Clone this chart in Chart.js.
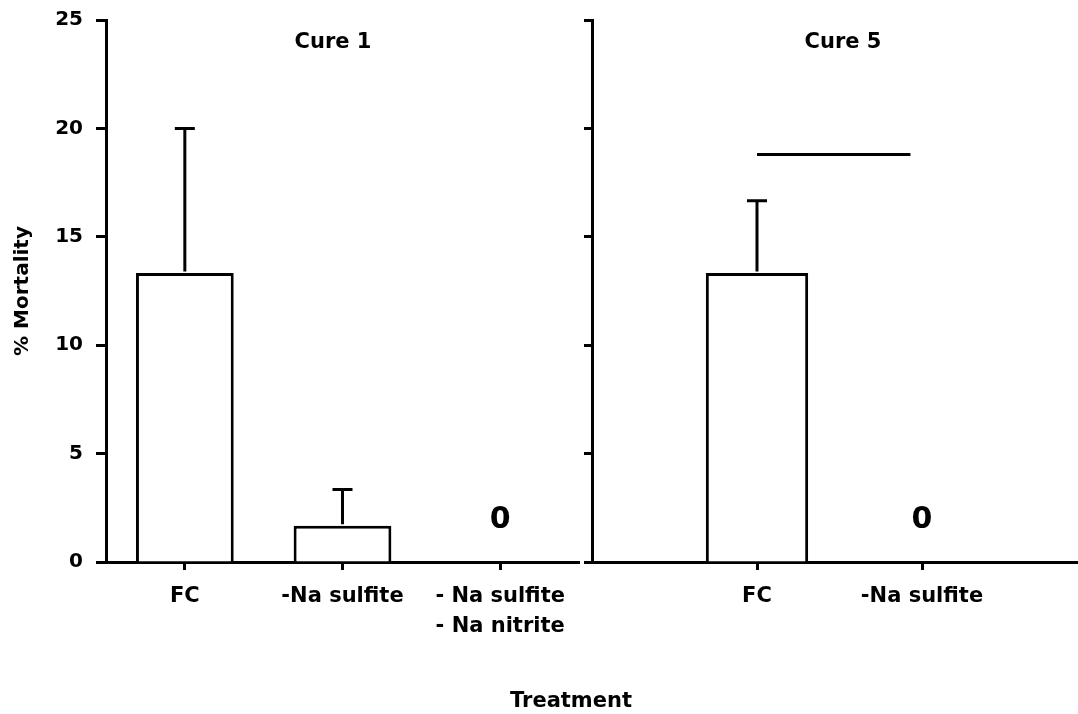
<!DOCTYPE html>
<html>
<head>
<meta charset="utf-8">
<script src="https://cdn.jsdelivr.net/npm/chart.js@4"></script>
<style>
  html, body { margin: 0; padding: 0; background: #fff; overflow: hidden; width: 1078px; height: 714px; }
  #wrap { position: relative; width: 1078px; height: 714px; overflow: hidden; }
  canvas { position: absolute; top: 0; }
  #c1 { left: 0; }
  #c2 { left: 560px; }
</style>
</head>
<body>
<div id="wrap">
  <canvas id="c1" width="650" height="714"></canvas>
  <canvas id="c2" width="540" height="714"></canvas>
</div>
<script>
// ---- data ----
const cure1Categories = ['FC', '-Na sulfite', ['- Na sulfite', '- Na nitrite']];
const cure1Mortality = [13.33, 1.67, 0];
const cure1StdErr = [6.67, 1.67, 0];

const cure5Categories = ['', 'FC', '-Na sulfite', ''];
const cure5Mortality = [null, 13.33, 0, null];
const cure5StdErr = [null, 3.33, 0, null];

const yTicks = [0, 5, 10, 15, 20, 25];
const panelTitles = ['Cure 1', 'Cure 5'];
const yAxisTitle = '% Mortality';
const xAxisTitle = 'Treatment';
const sigBar = { fromIndex: 1, toIndex: 1.93, value: 18.8 };

// ---- style ----
const FONT = 'DejaVu Sans';
Chart.defaults.font.family = FONT;
Chart.defaults.font.weight = 'bold';
Chart.defaults.color = '#000';

const overlayPlugin = {
  id: 'overlay',
  afterDatasetsDraw(chart, args, opts) {
    const ctx = chart.ctx;
    const xs = chart.scales.x, ys = chart.scales.y;
    const means = chart.data.datasets[0].data;
    const errs = opts.errors;
    ctx.save();
    ctx.strokeStyle = '#000';
    ctx.lineWidth = 3;
    ctx.lineCap = 'butt';
    // error bars (upper only)
    means.forEach((m, i) => {
      if (m === null || m === undefined) return;
      const e = errs[i];
      const x = xs.getPixelForValue(i);
      if (m === 0) {
        ctx.fillStyle = '#000';
        ctx.font = 'bold 30px ' + FONT;
        ctx.textAlign = 'center';
        ctx.textBaseline = 'alphabetic';
        ctx.fillText('0', x, ys.getPixelForValue(0) - 34);
        return;
      }
      if (!e) return;
      const y0 = ys.getPixelForValue(m);
      const y1 = ys.getPixelForValue(m + e);
      ctx.beginPath();
      ctx.moveTo(x, y0 - 1.5);
      ctx.lineTo(x, y1);
      ctx.moveTo(x - 10, y1);
      ctx.lineTo(x + 10, y1);
      ctx.stroke();
    });
    // panel title
    ctx.fillStyle = '#000';
    ctx.font = 'bold 21px ' + FONT;
    ctx.textAlign = 'center';
    ctx.textBaseline = 'middle';
    const ca = chart.chartArea;
    ctx.fillText(opts.title, ca.left + opts.titleFrac * (ca.right - ca.left), 43);
    // significance bar
    if (opts.sig) {
      const yy = ys.getPixelForValue(opts.sig.value);
      ctx.beginPath();
      ctx.moveTo(xs.getPixelForValue(opts.sig.fromIndex), yy);
      ctx.lineTo(xs.getPixelForValue(opts.sig.toIndex), yy);
      ctx.stroke();
    }
    // shared x-axis title
    if (opts.xTitle) {
      ctx.font = 'bold 21px ' + FONT;
      ctx.textBaseline = 'middle';
      ctx.fillText(opts.xTitle, 571, 702);
    }
    ctx.restore();
  }
};

function makeOptions(showYLabels, yWidth, yTickLen, overlayOpts, padRight, xOffset) {
  return {
    responsive: false,
    animation: false,
    events: [],
    layout: { padding: { top: 20, right: padRight, bottom: 0, left: 0 } },
    plugins: {
      legend: { display: false },
      tooltip: { enabled: false },
      overlay: overlayOpts
    },
    datasets: {
      bar: { categoryPercentage: 1.0, barPercentage: 0.62 }
    },
    scales: {
      x: {
        offset: xOffset,
        grid: {
          offset: false,
          drawOnChartArea: false,
          drawTicks: true,
          tickLength: 8,
          tickWidth: 3,
          tickColor: (c) => {
            const lbl = c.tick ? c.tick.label : '';
            return (lbl === '' || lbl === undefined) ? 'rgba(0,0,0,0)' : '#000';
          }
        },
        border: { display: true, color: '#000', width: 3 },
        ticks: {
          autoSkip: false,
          maxRotation: 0,
          minRotation: 0,
          padding: 12,
          color: '#000',
          font: { size: 21, weight: 'bold', lineHeight: 1.43 }
        },
        afterFit: (s) => { s.height = 152; s.paddingLeft = 0; s.paddingRight = 0; }
      },
      y: {
        min: 0,
        max: 25,
        afterBuildTicks: (s) => { s.ticks = yTicks.map(v => ({ value: v })); },
        grid: {
          drawOnChartArea: false,
          drawTicks: true,
          tickLength: yTickLen,
          tickWidth: 3,
          tickColor: '#000'
        },
        border: { display: true, color: '#000', width: 3 },
        ticks: {
          display: showYLabels,
          padding: 13,
          color: '#000',
          font: { size: 20, weight: 'bold' }
        },
        title: showYLabels ? {
          display: true,
          text: yAxisTitle,
          color: '#000',
          font: { size: 20, weight: 'bold' },
          padding: { top: 11, bottom: 0 }
        } : { display: false },
        afterFit: (s) => { s.width = yWidth; s.paddingTop = 0; s.paddingBottom = 0; }
      }
    }
  };
}

new Chart(document.getElementById('c1'), {
  type: 'bar',
  data: {
    labels: cure1Categories,
    datasets: [{
      data: cure1Mortality,
      backgroundColor: '#fff',
      borderColor: '#000',
      borderWidth: 3
    }]
  },
  options: makeOptions(true, 106, 10,
    { errors: cure1StdErr, title: panelTitles[0], titleFrac: 0.48, xTitle: xAxisTitle },
    650 - 579, true),
  plugins: [overlayPlugin]
});

new Chart(document.getElementById('c2'), {
  type: 'bar',
  data: {
    labels: cure5Categories,
    datasets: [{
      data: cure5Mortality,
      backgroundColor: '#fff',
      borderColor: '#000',
      borderWidth: 3
    }]
  },
  options: makeOptions(false, 32, 8,
    { errors: cure5StdErr, title: panelTitles[1], titleFrac: 0.507, sig: sigBar },
    540 - (1087 - 560), false),
  plugins: [overlayPlugin]
});
</script>
</body>
</html>
